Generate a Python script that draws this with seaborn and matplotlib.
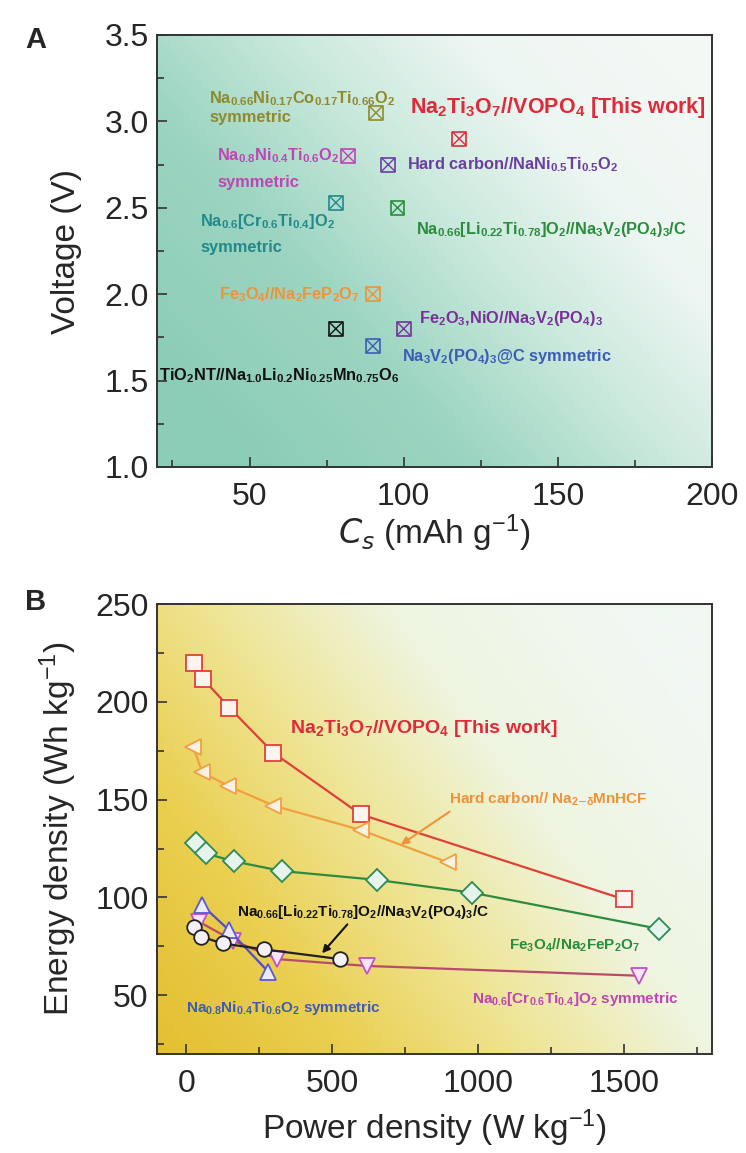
import numpy as np
import pandas as pd
import matplotlib
matplotlib.use("Agg")
import matplotlib.pyplot as plt
import seaborn as sns
from matplotlib import font_manager as fm
from matplotlib.colors import to_rgb
from matplotlib.ticker import MultipleLocator, FormatStrFormatter

sns.set_style("ticks")
names = {f.name for f in fm.fontManager.ttflist}
BASE = "Liberation Sans" if "Liberation Sans" in names else "DejaVu Sans"
NARROW = "Liberation Sans Narrow" if "Liberation Sans Narrow" in names else BASE
plt.rcParams["font.family"] = [BASE, "DejaVu Sans"]
plt.rcParams["mathtext.default"] = "regular"

# ---------------- Panel A data ----------------
a_labels = ["Na0.66Ni0.17Co0.17Ti0.66O2 symmetric", "Na2Ti3O7//VOPO4 [This work]",
            "Na0.8Ni0.4Ti0.6O2 symmetric", "Hard carbon//NaNi0.5Ti0.5O2",
            "Na0.6[Cr0.6Ti0.4]O2 symmetric", "Na0.66[Li0.22Ti0.78]O2//Na3V2(PO4)3/C",
            "Fe3O4//Na2FeP2O7", "TiO2NT//Na1.0Li0.2Ni0.25Mn0.75O6",
            "Fe2O3,NiO//Na3V2(PO4)3", "Na3V2(PO4)3@C symmetric"]
a_cs = [91, 118, 82, 95, 78, 98, 90, 78, 100, 90]
a_volt = [3.05, 2.90, 2.80, 2.75, 2.53, 2.50, 2.00, 1.80, 1.80, 1.70]
a_colors = ["#8f8a2e", "#e02a3a", "#c044b4", "#6b3fa0", "#23898a", "#2a8c3c",
            "#f0923a", "#111111", "#7b2f9b", "#3d5cb8"]

# ---------------- Panel B data ----------------
red_x = [28, 59, 148, 298, 597, 1500]
red_y = [220, 211.5, 197, 174, 142.5, 99]
org_x = [24, 55, 144, 298, 597, 895]
org_y = [177, 164, 157, 147, 134.5, 118]
grn_x = [33, 68, 162, 328, 653, 977, 1617]
grn_y = [128, 122.5, 118.5, 113.5, 109, 102.5, 84]
blu_x = [55, 145, 281]
blu_y = [96, 83.5, 62]
blk_x = [25, 50, 125, 265, 527]
blk_y = [85, 80, 76.5, 73.5, 68.5]
pnk_x = [45, 160, 312, 620, 1550]
pnk_y = [87.5, 78, 68.5, 65, 60]

W, H = 746, 1153
fig = plt.figure(figsize=(W / 100, H / 100), dpi=100)
axA = fig.add_axes([157 / W, 1 - 467 / H, 555 / W, 432 / H])
axB = fig.add_axes([157 / W, 1 - 1054 / H, 555 / W, 450 / H])


def gradient(ax, xlim, ylim, wu, wv, off, stops):
    n = 300
    U, V = np.meshgrid(np.linspace(0, 1, n), np.linspace(0, 1, n))
    t = np.clip(wu * U + wv * V + off, 0, 1)
    pos = [s[0] for s in stops]
    cols = np.array([to_rgb(s[1]) for s in stops])
    img = np.stack([np.interp(t, pos, cols[:, i]) for i in range(3)], -1)
    ax.imshow(img, extent=[xlim[0], xlim[1], ylim[0], ylim[1]], origin="lower",
              aspect="auto", zorder=0, interpolation="bilinear")


def style_axes(ax):
    for s in ax.spines.values():
        s.set_linewidth(1.4)
        s.set_color("#333333")
    ax.tick_params(which="both", direction="in", top=False, right=False,
                   color="#333333", width=1.2)
    ax.tick_params(which="major", length=7, labelsize=23)
    ax.tick_params(axis="x", which="major", pad=11)
    ax.tick_params(axis="y", which="major", pad=6)
    ax.tick_params(which="minor", length=5)


# ---------------- Panel A ----------------
xlA, ylA = (20, 200), (1.0, 3.5)
gradient(axA, xlA, ylA, 0.72, 0.5, -0.12,
         [(0, "#8ccdb7"), (0.3, "#9cd5c1"), (0.55, "#cae9dd"), (0.78, "#edf6f2"), (1, "#f3f8f5")])
dfA = pd.DataFrame({"cs": a_cs, "v": a_volt, "lab": a_labels})
pal = dict(zip(a_labels, a_colors))
sns.scatterplot(data=dfA, x="cs", y="v", hue="lab", palette=pal, marker="x", s=100,
                linewidth=1.0, legend=False, ax=axA, zorder=4)
for c, v, col in zip(a_cs, a_volt, a_colors):
    axA.scatter([c], [v], marker="s", s=100, facecolors="none", edgecolors=col,
                linewidths=1.2, zorder=4)
axA.set_xlim(*xlA)
axA.set_ylim(*ylA)
axA.xaxis.set_major_locator(MultipleLocator(50))
axA.xaxis.set_minor_locator(MultipleLocator(25))
axA.yaxis.set_major_locator(MultipleLocator(0.5))
axA.yaxis.set_minor_locator(MultipleLocator(0.25))
axA.yaxis.set_major_formatter(FormatStrFormatter("%.1f"))
style_axes(axA)
axA.set_xlabel(r"$\mathit{C_s}$ (mAh g$^{-1}$)", fontsize=24)
axA.set_ylabel("Voltage (V)", fontsize=24)
axA.xaxis.set_label_coords(0.5, -0.105)
axA.yaxis.set_label_coords(-0.135, 0.5)

tk = dict(fontweight="bold", family=[NARROW, "DejaVu Sans"], fontsize=11.8, va="center",
          ha="left", zorder=5)
axA.text(37, 3.13, r"Na$_{0.66}$Ni$_{0.17}$Co$_{0.17}$Ti$_{0.66}$O$_2$", color=a_colors[0], **tk)
axA.text(37, 3.02, "symmetric", color=a_colors[0], **tk)
axA.text(102, 3.08, r"Na$_2$Ti$_3$O$_7$//VOPO$_4$ [This work]", color=a_colors[1],
         **{**tk, "fontsize": 15.5})
axA.text(39.5, 2.80, r"Na$_{0.8}$Ni$_{0.4}$Ti$_{0.6}$O$_2$", color=a_colors[2], **tk)
axA.text(39.5, 2.645, "symmetric", color=a_colors[2], **tk)
axA.text(101, 2.75, r"Hard carbon//NaNi$_{0.5}$Ti$_{0.5}$O$_2$", color=a_colors[3], **tk)
axA.text(34, 2.42, r"Na$_{0.6}$[Cr$_{0.6}$Ti$_{0.4}$]O$_2$", color=a_colors[4], **tk)
axA.text(34, 2.27, "symmetric", color=a_colors[4], **tk)
axA.text(104, 2.375, r"Na$_{0.66}$[Li$_{0.22}$Ti$_{0.78}$]O$_2$//Na$_3$V$_2$(PO$_4$)$_3$/C",
         color=a_colors[5], **tk)
axA.text(40, 2.0, r"Fe$_3$O$_4$//Na$_2$FeP$_2$O$_7$", color=a_colors[6], **tk)
axA.text(20.5, 1.53, r"TiO$_2$NT//Na$_{1.0}$Li$_{0.2}$Ni$_{0.25}$Mn$_{0.75}$O$_6$",
         color=a_colors[7], **tk)
axA.text(105, 1.86, r"Fe$_2$O$_3$,NiO//Na$_3$V$_2$(PO$_4$)$_3$", color=a_colors[8], **tk)
axA.text(99.5, 1.64, r"Na$_3$V$_2$(PO$_4$)$_3$@C symmetric", color=a_colors[9], **tk)

# ---------------- Panel B ----------------
xlB, ylB = (-100, 1800), (20, 250)
gradient(axB, xlB, ylB, 0.72, 0.42, 0.0,
         [(0, "#e4bf30"), (0.25, "#eacf50"), (0.5, "#efe69a"), (0.72, "#eef5e0"), (1, "#f1f8f2")])

series = [
    (red_x, red_y, "#e0403a", "s", "#e0403a", "#fdf4f0", 11),
    (org_x, org_y, "#f0a040", "<", "#f0a040", "#fdf2e2", 12),
    (grn_x, grn_y, "#2e8b3e", "D", "#2e8b57", "#e6f4ec", 11),
    (pnk_x, pnk_y, "#b84a6a", "v", "#c050c8", "#f8e6f8", 12),
    (blu_x, blu_y, "#5050c0", "^", "#5a5ad0", "#ecebfb", 12),
    (blk_x, blk_y, "#222222", "o", "#222222", "#f4f0f4", 10.5),
]
for xs, ys, lc, mk, mec, mfc, ms in series:
    sns.lineplot(x=xs, y=ys, color=lc, marker=mk, markersize=ms, markeredgecolor=mec,
                 markerfacecolor=mfc, markeredgewidth=1.3, linewidth=1.6,
                 estimator=None, sort=False, ax=axB, zorder=3)
axB.set_xlim(*xlB)
axB.set_ylim(*ylB)
axB.xaxis.set_major_locator(MultipleLocator(500))
axB.xaxis.set_minor_locator(MultipleLocator(250))
axB.yaxis.set_major_locator(MultipleLocator(50))
axB.yaxis.set_minor_locator(MultipleLocator(25))
style_axes(axB)
axB.set_xlabel(r"Power density (W kg$^{-1}$)", fontsize=24)
axB.set_ylabel(r"Energy density (Wh kg$^{-1}$)", fontsize=24)
axB.xaxis.set_label_coords(0.5, -0.118)
axB.yaxis.set_label_coords(-0.14, 0.5)

axB.text(356, 186.5, r"Na$_2$Ti$_3$O$_7$//VOPO$_4$ [This work]", color="#e02a3a",
         **{**tk, "fontsize": 14})
axB.annotate(r"Hard carbon// Na$_{2\mathrm{-}\delta}$MnHCF", xy=(735, 127), xytext=(900, 150),
             color="#f0923a", arrowprops=dict(arrowstyle="-|>", color="#f0923a", lw=1.5,
                                              shrinkA=0, shrinkB=0, relpos=(0.04, 0.1)),
             **{**tk, "fontsize": 11})
axB.annotate(r"Na$_{0.66}$[Li$_{0.22}$Ti$_{0.78}$]O$_2$//Na$_3$V$_2$(PO$_4$)$_3$/C",
             xy=(465, 71.5), xytext=(173, 92.5), color="#111111",
             arrowprops=dict(arrowstyle="-|>", color="#111111", lw=1.5, shrinkA=0, shrinkB=0,
                             relpos=(0.45, 0.0)), **{**tk, "fontsize": 11})
axB.text(1106, 75.5, r"Fe$_3$O$_4$//Na$_2$FeP$_2$O$_7$", color="#2a8c3c", **{**tk, "fontsize": 11})
axB.text(0, 43.5, r"Na$_{0.8}$Ni$_{0.4}$Ti$_{0.6}$O$_2$ symmetric", color="#3d5cb8",
         **{**tk, "fontsize": 11})
axB.text(977, 48, r"Na$_{0.6}$[Cr$_{0.6}$Ti$_{0.4}$]O$_2$ symmetric", color="#c044b4",
         **{**tk, "fontsize": 11})

fig.text(25 / W, 1 - 40 / H, "A", fontsize=21, fontweight="bold", va="center", ha="left")
fig.text(25 / W, 1 - 602 / H, "B", fontsize=21, fontweight="bold", va="center", ha="left")

fig.savefig("out.png", dpi=100)
